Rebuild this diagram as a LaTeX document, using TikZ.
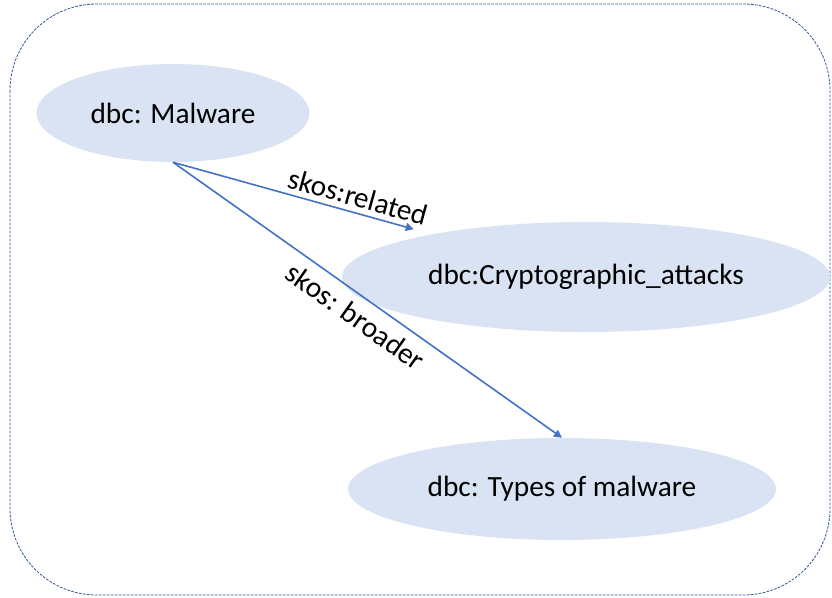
\documentclass[tikz,border=0pt]{standalone}
\usepackage{fontspec}
\setmainfont{Carlito}
\usepackage{tikz}
\usetikzlibrary{shapes.geometric,arrows.meta}
\definecolor{fillblue}{HTML}{DAE3F3}
\definecolor{lineblue}{HTML}{4472C4}
\definecolor{frameblue}{HTML}{2F5597}
\tikzset{
  concept/.style={ellipse, fill=fillblue, inner sep=0pt, font=\fontsize{22}{26}\selectfont},
  rel/.style={draw=lineblue, line width=1.2pt, -{Triangle[width=6pt,length=6pt]}},
  relLab/.style={sloped, inner sep=2pt, font=\fontsize{22}{26}\selectfont},
  frame/.style={draw=frameblue, line width=0.6pt, dash pattern=on 2pt off 1pt, rounded corners=65pt}
}

\begin{document}
\begin{tikzpicture}[x=0.75pt,y=0.75pt]
\useasboundingbox (0,0) rectangle (832,-597);
\draw[frame] (10,-4) rectangle (830,-595);

\node[concept, minimum width=204.75pt, minimum height=73.5pt] (mal) at (173,-113) {dbc: Malware};
\node[concept, minimum width=366pt, minimum height=82.5pt] (crypto) at (586,-277) {dbc:Cryptographic\_attacks};
\node[concept, minimum width=321pt, minimum height=76.5pt] (types) at (562,-489) {dbc: Types of malware};

\draw[rel, shorten >=14pt] (mal.south) -- (crypto) node[relLab, pos=0.7, above=2pt] {skos:related};
\draw[rel] (mal.south) -- (types.north) node[relLab, pos=0.5, below=5pt] {skos: broader};
\end{tikzpicture}
\end{document}
